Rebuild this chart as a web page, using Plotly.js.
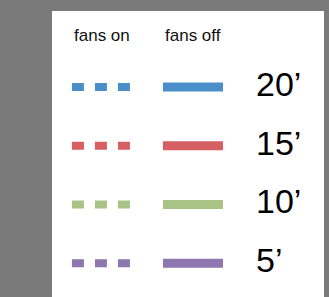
<!DOCTYPE html>
<html>
<head>
<meta charset="utf-8">
<script src="https://cdn.plot.ly/plotly-3.0.1.min.js"></script>
<style>html,body{margin:0;padding:0;background:#7a7a7a;}#chart{width:329px;height:297px;}</style>
</head>
<body>
<div id="chart"></div>
<script>
// legend key data
var levels = ['20\u2019', '15\u2019', '10\u2019', '5\u2019'];
var colors = ['#4a8fc9', '#d65f64', '#a9c386', '#8d77ae'];
var columns = ['fans on', 'fans off'];
var dashStyles = ['12px,11px', 'solid'];
var lineWidths = [8, 9];

var half = 0.33;
var traces = [];
levels.forEach(function (lv, i) {
  columns.forEach(function (col, c) {
    traces.push({
      type: 'scatter', mode: 'lines',
      x: [c - half, c + half], y: [i, i],
      line: {color: colors[i], width: lineWidths[c], dash: dashStyles[c]},
      name: col + ' ' + lv, hoverinfo: 'skip', showlegend: false
    });
  });
});

var annotations = [];
columns.forEach(function (col, c) {
  annotations.push({
    text: col, x: c - half, y: -0.87, xref: 'x', yref: 'y',
    xanchor: 'left', yanchor: 'middle', showarrow: false,
    font: {family: 'Liberation Sans, Arial, Helvetica, sans-serif', size: 17, color: '#111'}
  });
});
levels.forEach(function (lv, i) {
  annotations.push({
    text: lv, x: 1.67, y: i - 0.05, xref: 'x', yref: 'y',
    xanchor: 'left', yanchor: 'middle', showarrow: false,
    font: {family: 'Liberation Sans, Arial, Helvetica, sans-serif', size: 34, color: '#000'}
  });
});

var layout = {
  width: 329, height: 297,
  margin: {l: 52, r: 5, t: 11, b: 0, pad: 0},
  paper_bgcolor: '#7a7a7a', plot_bgcolor: '#ffffff',
  xaxis: {range: [-0.549, 2.44], visible: false, fixedrange: true},
  yaxis: {range: [3.577, -1.295], visible: false, fixedrange: true},
  showlegend: false,
  annotations: annotations
};
Plotly.newPlot('chart', traces, layout, {displayModeBar: false, staticPlot: true});
</script>
</body>
</html>
